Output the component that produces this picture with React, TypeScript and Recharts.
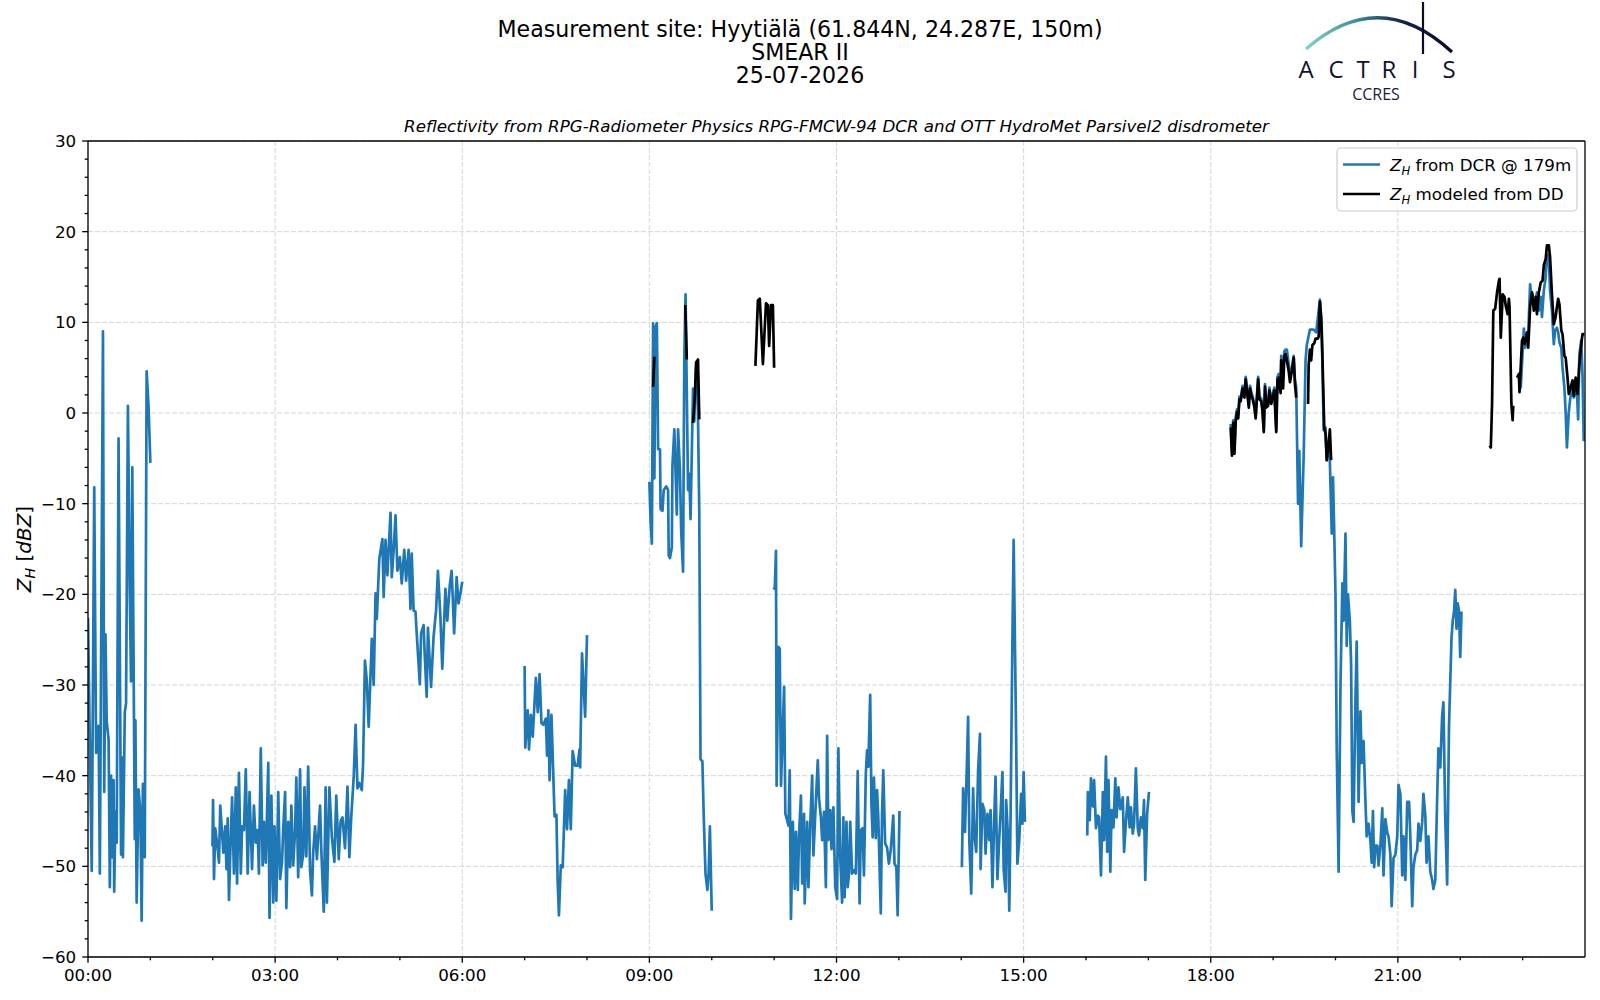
import React from 'react';
import { LineChart, Line, XAxis, YAxis, CartesianGrid, ReferenceLine } from 'recharts';

type Pt = [number, number];

// ---- DCR reflectivity segments [hour, dBZ] ----
const dcrSegA: Pt[] = [[0.0,-22.6],[0.06,-50.5],[0.10,-8.2],[0.13,-37.5],[0.17,-34.5],[0.19,-50.8],[0.24,9.0],[0.26,-41.8],[0.28,-24.4],[0.30,-34],[0.33,-36],[0.35,-52.3],[0.37,-40],[0.39,-49],[0.41,-40.5],[0.42,-52.8],[0.44,-44],[0.46,-47.4],[0.49,-2.8],[0.53,-48.7],[0.55,-38],[0.56,-49],[0.59,-33],[0.61,-32],[0.64,0.8],[0.67,-20],[0.69,-29.6],[0.71,-6],[0.75,-47],[0.76,-33.9],[0.78,-54],[0.81,-41.5],[0.84,-44],[0.86,-56],[0.88,-40.9],[0.91,-49],[0.94,4.6],[0.97,0.8],[1.0,-5.5]];
const dcrSegB: Pt[] = [[1.995,-47.8],[2.005,-42.7],[2.02,-51.4],[2.04,-45.8],[2.07,-47.5],[2.10,-49.6],[2.12,-43.3],[2.17,-48.5],[2.20,-45.6],[2.22,-50.3],[2.24,-44.7],[2.26,-53.7],[2.28,-48.7],[2.31,-42.4],[2.34,-50.8],[2.37,-41.3],[2.39,-51.9],[2.42,-39.7],[2.45,-50.8],[2.47,-45.6],[2.50,-46.0],[2.53,-39.3],[2.56,-50.8],[2.59,-41.8],[2.63,-50.3],[2.66,-43.3],[2.69,-47.4],[2.72,-46.0],[2.74,-50.8],[2.77,-37.0],[2.80,-49.9],[2.82,-45.1],[2.85,-49.6],[2.89,-38.6],[2.91,-55.7],[2.94,-42.2],[2.97,-54.0],[2.99,-45.6],[3.02,-53.8],[3.05,-41.8],[3.08,-51.4],[3.11,-49.6],[3.13,-45.8],[3.16,-41.8],[3.18,-54.6],[3.21,-45.1],[3.24,-50.1],[3.26,-43.3],[3.29,-49.9],[3.32,-46.0],[3.34,-40.2],[3.37,-51.2],[3.40,-39.3],[3.42,-50.1],[3.45,-48.7],[3.47,-41.3],[3.50,-48.9],[3.53,-39.0],[3.56,-50.5],[3.59,-53.2],[3.61,-48.5],[3.64,-45.6],[3.67,-49.2],[3.72,-43.3],[3.74,-48.1],[3.78,-55.0],[3.81,-41.3],[3.83,-54.0],[3.87,-41.3],[3.91,-46.8],[3.95,-49.5],[3.98,-42.2],[4.02,-49.2],[4.05,-45.0],[4.08,-44.6],[4.12,-48.0],[4.16,-41.2],[4.19,-49.0],[4.22,-44.6],[4.26,-40.1],[4.29,-34.4],[4.32,-41.4],[4.35,-40.8],[4.39,-41.6],[4.41,-38.7],[4.44,-27.3],[4.47,-29.5],[4.50,-34.6],[4.55,-24.9],[4.58,-30.0],[4.61,-19.9],[4.63,-22.7],[4.67,-16.1],[4.72,-13.9],[4.74,-20.3],[4.77,-14.0],[4.80,-17.9],[4.85,-11.0],[4.87,-18.1],[4.90,-15.1],[4.93,-11.3],[4.96,-17.4],[5.00,-15.9],[5.03,-18.8],[5.07,-15.1],[5.10,-18.5],[5.14,-15.1],[5.17,-21.6],[5.19,-15.5],[5.22,-21.8],[5.25,-21.9],[5.27,-24.3],[5.32,-29.9],[5.34,-24.3],[5.38,-23.4],[5.40,-26.9],[5.43,-31.3],[5.45,-23.7],[5.50,-30.2],[5.54,-24.7],[5.58,-21.8],[5.61,-17.4],[5.65,-22.5],[5.68,-28.2],[5.73,-19.4],[5.76,-22.9],[5.80,-19.0],[5.83,-17.4],[5.87,-24.3],[5.91,-18.1],[5.94,-21.0],[5.97,-19.9],[6.0,-18.6]];
const dcrSegC: Pt[] = [[7.0,-27.9],[7.01,-36.9],[7.05,-32.8],[7.07,-37.1],[7.10,-33.3],[7.13,-35.7],[7.18,-29.2],[7.21,-33.0],[7.24,-28.8],[7.27,-34.2],[7.30,-34.4],[7.34,-33.7],[7.36,-37.8],[7.38,-32.8],[7.40,-40.5],[7.43,-33.3],[7.48,-44.5],[7.51,-44.3],[7.53,-51.7],[7.55,-55.4],[7.58,-49.9],[7.61,-50.1],[7.65,-41.6],[7.68,-45.9],[7.71,-40.5],[7.74,-45.9],[7.77,-37.3],[7.81,-38.9],[7.85,-38.9],[7.88,-37.1],[7.89,-39.1],[7.92,-26.5],[7.97,-33.5],[8.0,-24.5]];
const dcrSegD: Pt[] = [[9.0,-7.6],[9.02,-12.0],[9.04,-14.4],[9.06,9.9],[9.08,-7.2],[9.10,9.5],[9.12,9.9],[9.14,-4.0],[9.17,-4.0],[9.18,-10.6],[9.21,-10.8],[9.23,-8.5],[9.27,-8.1],[9.30,-8.5],[9.31,-15.7],[9.33,-16.0],[9.36,-14.8],[9.37,-5.8],[9.40,-1.8],[9.44,-11.2],[9.46,-1.8],[9.49,-6.3],[9.51,-13.0],[9.54,-17.5],[9.56,6.1],[9.58,13.1],[9.62,-8.5],[9.64,-6.7],[9.66,-11.7],[9.70,2.7],[9.72,-0.9],[9.75,5.2],[9.77,4.5],[9.80,-11.0],[9.82,-38.2],[9.85,-38.4],[9.87,-44.1],[9.90,-50.8],[9.93,-52.6],[9.95,-50.8],[9.97,-45.6],[10.0,-54.9]];
const dcrSegE: Pt[] = [[10.99,-19.2],[11.01,-19.4],[11.03,-15.2],[11.04,-41.1],[11.07,-25.8],[11.09,-26.0],[11.11,-41.1],[11.16,-30.2],[11.18,-44.2],[11.23,-45.5],[11.25,-39.4],[11.27,-55.8],[11.30,-45.1],[11.33,-52.5],[11.35,-46.2],[11.38,-52.6],[11.40,-46.4],[11.43,-42.2],[11.45,-51.9],[11.48,-44.2],[11.49,-54.1],[11.53,-45.1],[11.55,-52.3],[11.58,-45.3],[11.61,-40.0],[11.63,-48.8],[11.67,-42.7],[11.70,-38.3],[11.72,-42.5],[11.75,-44.6],[11.77,-47.1],[11.80,-44.0],[11.83,-52.3],[11.85,-35.6],[11.87,-47.1],[11.90,-43.8],[11.92,-48.1],[11.95,-43.5],[11.98,-52.3],[12.01,-53.6],[12.03,-37.0],[12.06,-49.0],[12.09,-54.0],[12.11,-44.6],[12.13,-53.4],[12.16,-45.1],[12.18,-52.3],[12.20,-50.8],[12.22,-45.1],[12.25,-50.8],[12.29,-50.4],[12.31,-50.8],[12.34,-39.5],[12.37,-54.1],[12.39,-46.0],[12.42,-45.8],[12.44,-51.0],[12.47,-39.8],[12.49,-37.2],[12.51,-39.0],[12.54,-31.1],[12.56,-43.1],[12.58,-46.8],[12.60,-40.2],[12.63,-46.9],[12.65,-41.6],[12.67,-44.6],[12.71,-55.2],[12.73,-44.2],[12.75,-39.4],[12.78,-47.5],[12.81,-47.9],[12.84,-49.7],[12.87,-48.2],[12.91,-44.4],[12.93,-49.7],[12.96,-50.1],[12.98,-55.4],[13.01,-43.9]];
const dcrSegF: Pt[] = [[14.01,-50.1],[14.03,-41.4],[14.06,-46.2],[14.09,-38.9],[14.11,-33.5],[14.13,-47.3],[14.16,-53.0],[14.19,-41.4],[14.21,-46.4],[14.24,-48.4],[14.27,-39.4],[14.30,-35.4],[14.31,-50.3],[14.34,-43.1],[14.37,-43.8],[14.39,-48.6],[14.42,-44.2],[14.45,-47.1],[14.47,-43.8],[14.50,-52.3],[14.53,-44.4],[14.55,-40.1],[14.58,-51.4],[14.61,-46.8],[14.63,-44.2],[14.66,-39.6],[14.68,-50.4],[14.71,-52.8],[14.72,-42.7],[14.75,-46.8],[14.77,-54.9],[14.79,-45.0],[14.82,-25.1],[14.84,-14.0],[14.88,-35.7],[14.90,-49.7],[14.93,-47.1],[14.96,-42.0],[14.98,-45.3],[15.0,-39.6],[15.02,-45.1]];
const dcrSegG: Pt[] = [[16.02,-46.6],[16.03,-41.8],[16.06,-44.9],[16.08,-40.3],[16.11,-43.4],[16.13,-40.5],[16.16,-45.8],[16.19,-44.4],[16.21,-44.6],[16.24,-51.0],[16.27,-41.8],[16.29,-47.1],[16.32,-37.9],[16.34,-48.4],[16.36,-40.5],[16.39,-50.6],[16.41,-43.8],[16.44,-45.7],[16.47,-40.3],[16.49,-44.6],[16.52,-41.3],[16.55,-43.7],[16.59,-42.4],[16.61,-48.4],[16.64,-45.1],[16.67,-42.4],[16.70,-45.7],[16.72,-43.5],[16.75,-46.4],[16.77,-45.3],[16.80,-39.2],[16.83,-45.8],[16.85,-46.6],[16.88,-44.6],[16.91,-45.8],[16.93,-42.7],[16.95,-51.5],[16.98,-44.2],[17.01,-41.8]];
const dcrSegH: Pt[] = [[18.32,-1.2],[18.34,-4.3],[18.36,-0.8],[18.38,-4.0],[18.40,-0.5],[18.42,0.4],[18.44,-0.2],[18.46,1.8],[18.48,1.6],[18.51,3.0],[18.54,2.0],[18.56,4.0],[18.58,2.8],[18.61,0.9],[18.63,3.0],[18.65,2.3],[18.68,1.6],[18.70,0.9],[18.72,-0.3],[18.76,4.0],[18.78,1.8],[18.81,1.6],[18.83,0.4],[18.85,-1.8],[18.87,3.2],[18.89,0.9],[18.92,1.1],[18.94,2.8],[18.97,1.3],[18.99,2.0],[19.02,2.8],[19.03,1.1],[19.05,-1.8],[19.07,4.0],[19.09,4.3],[19.12,3.0],[19.13,6.3],[19.16,4.2],[19.18,6.8],[19.20,7.0],[19.22,7.0],[19.25,5.4],[19.27,3.9],[19.30,5.0],[19.33,6.3],[19.35,3.6],[19.37,2.9],[19.40,-10.0],[19.42,-4.2],[19.45,-14.7],[19.49,-4.6],[19.52,5.8],[19.54,7.5],[19.59,9.2],[19.65,9.2],[19.69,8.9],[19.75,12.5],[19.78,9.2],[19.81,-1.9],[19.84,-1.6],[19.86,-5.2],[19.90,-2.8],[19.94,-13.3],[19.96,-7.1],[19.98,-13.3],[20.0,-20.0],[20.02,-37.2],[20.05,-50.6],[20.08,-30.0],[20.11,-18.8],[20.13,-22.9],[20.16,-13.3],[20.18,-25.7],[20.20,-20.0],[20.23,-22.9],[20.25,-27.6],[20.27,-43.9],[20.29,-45.1],[20.32,-31.5],[20.34,-25.2],[20.37,-42.9],[20.40,-32.9],[20.42,-38.6],[20.45,-36.2],[20.48,-42.9],[20.50,-46.7],[20.53,-45.3],[20.56,-47.2],[20.58,-49.6],[20.60,-43.9],[20.62,-50.1],[20.64,-47.7],[20.67,-47.7],[20.69,-49.9],[20.72,-47.7],[20.75,-43.6],[20.77,-51.0],[20.80,-44.8],[20.83,-46.3],[20.85,-46.7],[20.88,-48.7],[20.90,-54.4],[20.93,-49.1],[20.96,-48.7],[20.99,-46.7],[21.01,-41.0],[21.04,-42.0],[21.07,-51.0],[21.09,-46.7],[21.12,-51.5],[21.15,-42.9],[21.18,-42.9],[21.20,-46.7],[21.23,-54.4],[21.25,-50.1],[21.28,-48.7],[21.31,-48.2],[21.33,-45.3],[21.36,-47.2],[21.39,-45.1],[21.41,-42.0],[21.44,-44.4],[21.46,-49.6],[21.49,-46.7],[21.52,-50.6],[21.55,-51.5],[21.57,-52.5],[21.60,-51.5],[21.63,-42.4],[21.65,-37.0],[21.68,-39.1],[21.71,-33.4],[21.73,-31.9],[21.76,-44.8],[21.79,-52.0],[21.82,-34.4],[21.86,-24.8],[21.88,-22.9],[21.90,-21.9],[21.92,-19.5],[21.94,-23.8],[21.96,-21.0],[21.98,-21.9],[22.0,-26.9],[22.02,-21.9]];
const dcrSegI: Pt[] = [[22.94,4.0],[22.97,2.8],[23.02,9.3],[23.04,7.2],[23.07,8.3],[23.09,8.7],[23.12,14.2],[23.14,12.8],[23.16,13.1],[23.19,11.7],[23.21,12.2],[23.23,13.3],[23.26,11.3],[23.29,12.8],[23.31,10.6],[23.34,13.5],[23.37,15.0],[23.39,17.5],[23.42,17.2],[23.44,13.5],[23.47,11.3],[23.50,7.6],[23.52,9.1],[23.55,9.4],[23.57,8.9],[23.59,7.8],[23.62,7.2],[23.64,5.0],[23.67,2.8],[23.69,0.1],[23.71,-3.8],[23.74,0.1],[23.76,1.4],[23.79,2.8],[23.82,1.7],[23.84,2.1],[23.87,2.5],[23.89,-0.7],[23.91,6.5],[23.94,8.0],[23.96,4.3],[23.98,-3.1]];

// ---- Disdrometer-modelled reflectivity segments [hour, dBZ] ----
const ddSeg1: Pt[] = [[9.06,2.9],[9.08,6.2]];
const ddSeg2: Pt[] = [[9.575,11.9],[9.60,5.9]];
const ddSeg3: Pt[] = [[9.70,-1.1],[9.73,2.0],[9.75,5.6],[9.78,5.9],[9.80,-0.7]];
const ddSeg4: Pt[] = [[10.70,5.2],[10.74,12.4],[10.77,12.6],[10.82,5.4],[10.87,12.1],[10.90,11.9],[10.92,7.4],[10.95,11.9],[10.98,11.9],[11.0,5.0]];
const ddSeg5: Pt[] = [[18.32,-1.6],[18.34,-4.7],[18.36,-1.1],[18.38,-4.5],[18.40,-0.9],[18.42,0.1],[18.44,-0.6],[18.46,1.5],[18.48,1.3],[18.51,2.7],[18.54,1.7],[18.56,3.7],[18.58,2.5],[18.61,0.6],[18.63,2.7],[18.65,2.0],[18.68,1.3],[18.70,0.6],[18.72,-0.6],[18.76,3.7],[18.78,1.5],[18.81,1.3],[18.83,0.1],[18.85,-2.1],[18.87,2.9],[18.89,0.6],[18.92,0.8],[18.94,2.5],[18.97,1.0],[18.99,1.7],[19.02,2.5],[19.03,0.8],[19.05,-2.1],[19.07,3.7],[19.09,3.9],[19.12,2.2],[19.13,5.8],[19.16,2.7],[19.18,6.3],[19.20,6.5],[19.22,5.8],[19.25,4.6],[19.27,3.4],[19.30,4.6],[19.33,6.1],[19.35,3.2],[19.37,1.7]];
const ddSeg6: Pt[] = [[19.56,1.0],[19.57,5.3],[19.59,7.0],[19.61,5.8],[19.63,7.5],[19.66,7.7],[19.68,8.2],[19.71,8.2],[19.73,8.4],[19.75,12.3],[19.77,10.6],[19.79,6.3],[19.82,-1.6],[19.84,-2.3],[19.86,-5.2],[19.89,-3.3],[19.91,-1.8],[19.93,-5.2]];
const ddSeg7: Pt[] = [[22.47,-3.6],[22.49,-3.8],[22.51,1.0],[22.53,11.3],[22.56,11.5],[22.59,13.3],[22.62,14.6],[22.63,14.8],[22.65,8.3],[22.68,13.1],[22.71,12.8],[22.73,11.8],[22.76,10.9],[22.78,12.6],[22.79,11.7],[22.82,1.0],[22.84,-0.8],[22.85,0.8]];
const ddSeg8: Pt[] = [[22.91,3.9],[22.94,4.3],[22.95,2.3],[22.99,8.0],[23.01,8.3],[23.03,7.6],[23.07,8.9],[23.09,7.2],[23.12,11.7],[23.15,13.3],[23.18,11.3],[23.21,12.8],[23.23,10.9],[23.26,13.3],[23.29,14.4],[23.32,14.6],[23.34,16.3],[23.37,17.0],[23.39,18.5],[23.42,18.5],[23.44,17.2],[23.47,13.1],[23.50,9.8],[23.53,10.6],[23.55,11.7],[23.57,12.6],[23.59,12.0],[23.62,9.1],[23.64,8.7],[23.67,6.3],[23.69,6.1],[23.72,3.9],[23.74,2.1],[23.77,2.8],[23.80,3.6],[23.82,1.9],[23.85,3.9],[23.88,2.1],[23.91,5.4],[23.94,7.6],[23.96,8.7],[23.99,8.7]];

const dcrSegments = [dcrSegA, dcrSegB, dcrSegC, dcrSegD, dcrSegE, dcrSegF, dcrSegG, dcrSegH, dcrSegI];
const ddSegments = [ddSeg1, ddSeg2, ddSeg3, ddSeg4, ddSeg5, ddSeg6, ddSeg7, ddSeg8];

// ---- axes ----
const xTicks = [0,1,2,3,4,5,6,7,8,9,10,11,12,13,14,15,16,17,18,19,20,21,22,23];
const xMajorTicks = [0,3,6,9,12,15,18,21];
const xTickLabels = ['00:00','03:00','06:00','09:00','12:00','15:00','18:00','21:00'];
const yTicks = [-60,-58,-56,-54,-52,-50,-48,-46,-44,-42,-40,-38,-36,-34,-32,-30,-28,-26,-24,-22,-20,-18,-16,-14,-12,-10,-8,-6,-4,-2,0,2,4,6,8,10,12,14,16,18,20,22,24,26,28,30];
const yMajorTicks = [-60,-50,-40,-30,-20,-10,0,10,20,30];

const titleLines = ['Measurement site: Hyytiälä (61.844N, 24.287E, 150m)', 'SMEAR II', '25-07-2026'];
const subtitle = 'Reflectivity from RPG-Radiometer Physics RPG-FMCW-94 DCR and OTT HydroMet Parsivel2 disdrometer';
const legendLabels = [' from DCR @ 179m', ' modeled from DD'];

const FONT = '"DejaVu Sans", sans-serif';
const BLUE = '#1f77b4';
const TICK_SIZE = 6;
const TICK_MARGIN = 5.8;
const MAJOR_LEN = 5.8;
const MINOR_LEN = 3.3;
const LINE_W = 2.7;

function toRows(segs: Pt[][]) {
  const rows: { t: number; v: number | null }[] = [];
  segs.forEach((seg, i) => {
    if (i > 0) {
      const prev = segs[i - 1][segs[i - 1].length - 1][0];
      rows.push({ t: (prev + seg[0][0]) / 2, v: null });
    }
    seg.forEach(([t, v]) => rows.push({ t, v }));
  });
  return rows;
}

const dcrRows = toRows(dcrSegments);
const ddRows = toRows(ddSegments);

function fmtY(v: number) {
  return v < 0 ? '\u2212' + Math.abs(v) : String(v);
}

function XTick(props: any) {
  const { x, y, payload } = props;
  const v = payload.value as number;
  const idx = xMajorTicks.indexOf(v);
  const axisY = y - TICK_SIZE - TICK_MARGIN;
  return (
    <g>
      <line x1={x} x2={x} y1={axisY} y2={axisY + (idx >= 0 ? MAJOR_LEN : MINOR_LEN)} stroke="#000" strokeWidth={1.3} />
      {idx >= 0 && (
        <text x={x} y={y} dy="0.71em" textAnchor="middle" fontSize={16.7} fontFamily={FONT} fill="#000">
          {xTickLabels[idx]}
        </text>
      )}
    </g>
  );
}

function YTick(props: any) {
  const { x, y, payload } = props;
  const v = payload.value as number;
  const major = yMajorTicks.indexOf(v) >= 0;
  const axisX = x + TICK_SIZE + TICK_MARGIN;
  return (
    <g>
      <line x1={axisX - (major ? MAJOR_LEN : MINOR_LEN)} x2={axisX} y1={y} y2={y} stroke="#000" strokeWidth={1.3} />
      {major && (
        <text x={x} y={y} dy="0.36em" textAnchor="end" fontSize={16.7} fontFamily={FONT} fill="#000">
          {fmtY(v)}
        </text>
      )}
    </g>
  );
}

function Overlay() {
  return (
    <svg width={1600} height={1000} style={{ position: 'absolute', left: 0, top: 0, pointerEvents: 'none' }}>
      <defs>
        <linearGradient id="arcGrad" x1="1306" y1="0" x2="1452" y2="0" gradientUnits="userSpaceOnUse">
          <stop offset="0" stopColor="#7fd3cc" />
          <stop offset="0.35" stopColor="#3a8d9a" />
          <stop offset="0.65" stopColor="#14234a" />
          <stop offset="1" stopColor="#0b0b28" />
        </linearGradient>
      </defs>
      {titleLines.map((s, i) => (
        <text key={i} x={800} y={29 + i * 23} dy="0.36em" textAnchor="middle" fontSize={22.1} fontFamily={FONT} fill="#000">
          {s}
        </text>
      ))}
      <text x={836.5} y={126} dy="0.36em" textAnchor="middle" fontSize={16.7} fontStyle="italic" fontFamily={FONT} fill="#000">
        {subtitle}
      </text>
      <text transform="translate(24,549) rotate(-90)" textAnchor="middle" dy="0.36em" fontSize={20} fontFamily={FONT} fill="#000">
        <tspan fontStyle="italic">Z</tspan>
        <tspan fontStyle="italic" fontSize={14} dy={4}>H</tspan>
        <tspan dy={-4}> [</tspan>
        <tspan fontStyle="italic">dBZ</tspan>
        <tspan>]</tspan>
      </text>

      {/* logo */}
      <path d="M1306 49 Q1379 -15 1452 52" fill="none" stroke="url(#arcGrad)" strokeWidth={3.2} />
      <line x1={1423} x2={1423} y1={2} y2={54} stroke="#0b0b28" strokeWidth={2.2} />
      <text x="1306 1336 1363 1389 1415 1449" y={77.5} textAnchor="middle" fontSize={24} fontWeight={500} fontFamily="'Open Sans', Lato, sans-serif" fill="#10122e">
        ACTRIS
      </text>
      <text x={1376} y={100} textAnchor="middle" fontSize={16} fontFamily="'Open Sans', Lato, sans-serif" fill="#1a1a3a">
        CCRES
      </text>

      {/* legend */}
      <rect x={1337} y={148} width={240} height={63} rx={4} ry={4} fill="rgba(255,255,255,0.8)" stroke="#cccccc" strokeWidth={1.2} />
      <line x1={1343} x2={1380} y1={164.5} y2={164.5} stroke={BLUE} strokeWidth={LINE_W} />
      <line x1={1343} x2={1380} y1={194} y2={194} stroke="#000" strokeWidth={LINE_W} />
      {legendLabels.map((s, i) => (
        <text key={i} x={1390} y={164.5 + i * 29.5} dy="0.36em" fontSize={16.7} fontFamily={FONT} fill="#000">
          <tspan fontStyle="italic">Z</tspan>
          <tspan fontStyle="italic" fontSize={11.7} dy={4}>H</tspan>
          <tspan dy={-4}>{s}</tspan>
        </text>
      ))}
    </svg>
  );
}

export default function App() {
  return (
    <div style={{ position: 'absolute', left: 0, top: 0, width: 1600, height: 1000, background: '#fff', fontFamily: FONT }}>
      <LineChart width={1600} height={1000} margin={{ top: 141, right: 15, bottom: 0, left: 0 }}>
        <CartesianGrid
          stroke="#d5d5d5"
          strokeWidth={1}
          strokeDasharray="5 2"
          horizontalValues={yMajorTicks}
          verticalValues={xMajorTicks}
        />
        <XAxis
          dataKey="t"
          type="number"
          domain={[0, 24]}
          ticks={xTicks}
          interval={0}
          allowDataOverflow
          height={43}
          tickSize={TICK_SIZE}
          tickMargin={TICK_MARGIN}
          tickLine={false}
          tick={<XTick />}
          axisLine={{ stroke: '#000', strokeWidth: 1.3 }}
        />
        <YAxis
          type="number"
          domain={[-60, 30]}
          ticks={yTicks}
          interval={0}
          allowDataOverflow
          width={88}
          tickSize={TICK_SIZE}
          tickMargin={TICK_MARGIN}
          tickLine={false}
          tick={<YTick />}
          axisLine={{ stroke: '#000', strokeWidth: 1.3 }}
        />
        <Line
          data={dcrRows}
          dataKey="v"
          name="dcr"
          type="linear"
          stroke={BLUE}
          strokeWidth={LINE_W}
          strokeLinejoin="round"
          dot={false}
          activeDot={false}
          isAnimationActive={false}
        />
        <Line
          data={ddRows}
          dataKey="v"
          name="dd"
          type="linear"
          stroke="#000"
          strokeWidth={LINE_W}
          strokeLinejoin="round"
          dot={false}
          activeDot={false}
          isAnimationActive={false}
        />
        <ReferenceLine y={30} stroke="#000" strokeWidth={1.3} />
        <ReferenceLine x={24} stroke="#000" strokeWidth={1.3} />
      </LineChart>
      <Overlay />
    </div>
  );
}
